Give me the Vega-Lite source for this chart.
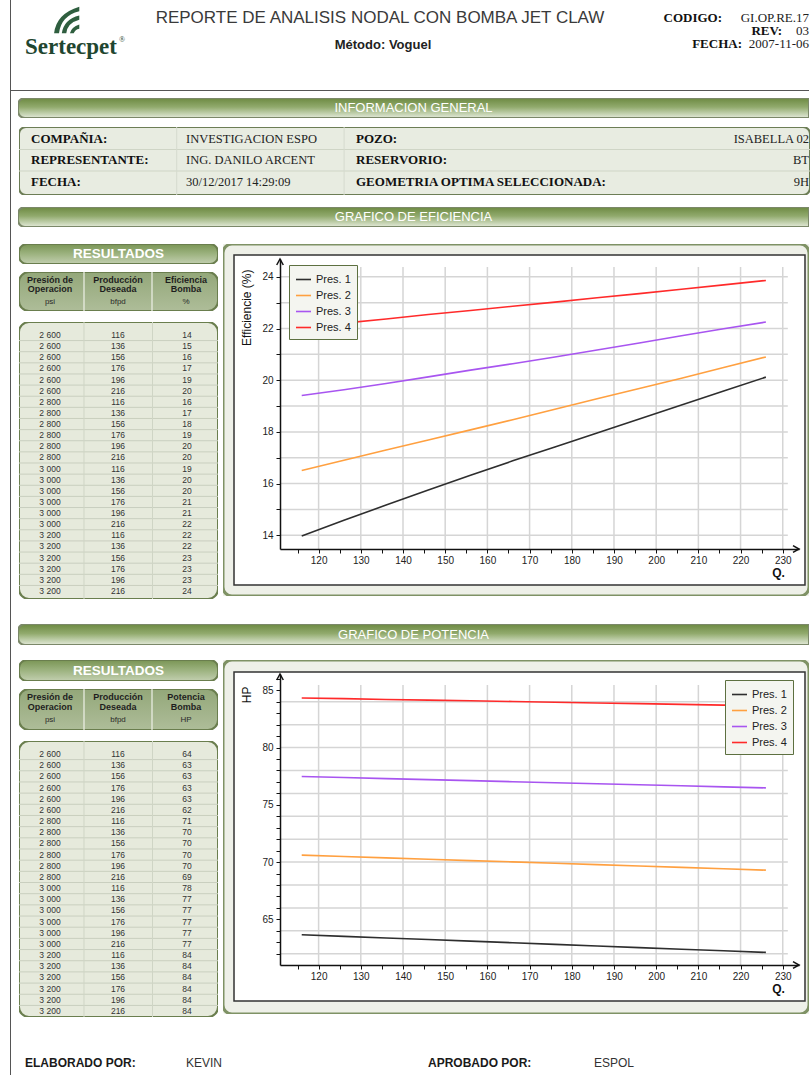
{
  "$schema": "https://vega.github.io/schema/vega-lite/v6.json",
  "background": "#ffffff",
  "padding": {"left": 10, "top": 0, "right": 0, "bottom": 0},
  "spacing": 0,
  "resolve": {"scale": {"color": "independent"}, "legend": {"color": "independent"}},
  "config": {
    "view": {"stroke": null},
    "font": "Liberation Sans",
    "locale": {"number": {"decimal": ",", "thousands": " ", "grouping": [3], "currency": ["", ""]}},
    "axis": {"labelFont": "Liberation Sans", "labelFontSize": 10, "labelColor": "#222222", "domainColor": "#111111", "domainWidth": 1.5, "tickColor": "#111111", "tickSize": 4, "grid": false, "titleFont": "Liberation Sans", "titleColor": "#111111", "titleFontWeight": "normal", "titleFontSize": 12, "labelFlush": false, "labelOverlap": false, "labelBound": false},
    "legend": {"labelFont": "Liberation Sans", "labelFontSize": 11, "labelColor": "#222222", "symbolType": "stroke", "symbolSize": 225, "symbolStrokeWidth": 1.6, "padding": 6, "rowPadding": 2, "labelOffset": 4, "fillColor": "#f4f5f0", "strokeColor": "#5d7040"}
  },
  "datasets": {
    "curvas": [
      {"serie": "Pres. 1", "Q": 116, "ef": 13.97, "hp": 63.66}, {"serie": "Pres. 1", "Q": 126, "ef": 14.58, "hp": 63.52}, {"serie": "Pres. 1", "Q": 136, "ef": 15.17, "hp": 63.38}, {"serie": "Pres. 1", "Q": 146, "ef": 15.75, "hp": 63.24}, {"serie": "Pres. 1", "Q": 156, "ef": 16.32, "hp": 63.10}, {"serie": "Pres. 1", "Q": 166, "ef": 16.88, "hp": 62.96}, {"serie": "Pres. 1", "Q": 176, "ef": 17.42, "hp": 62.82}, {"serie": "Pres. 1", "Q": 186, "ef": 17.96, "hp": 62.68}, {"serie": "Pres. 1", "Q": 196, "ef": 18.50, "hp": 62.54}, {"serie": "Pres. 1", "Q": 206, "ef": 19.04, "hp": 62.40}, {"serie": "Pres. 1", "Q": 216, "ef": 19.58, "hp": 62.26}, {"serie": "Pres. 1", "Q": 226, "ef": 20.12, "hp": 62.12},
      {"serie": "Pres. 2", "Q": 116, "ef": 16.51, "hp": 70.61}, {"serie": "Pres. 2", "Q": 126, "ef": 16.90, "hp": 70.49}, {"serie": "Pres. 2", "Q": 136, "ef": 17.30, "hp": 70.37}, {"serie": "Pres. 2", "Q": 146, "ef": 17.69, "hp": 70.25}, {"serie": "Pres. 2", "Q": 156, "ef": 18.08, "hp": 70.13}, {"serie": "Pres. 2", "Q": 166, "ef": 18.47, "hp": 70.02}, {"serie": "Pres. 2", "Q": 176, "ef": 18.88, "hp": 69.90}, {"serie": "Pres. 2", "Q": 186, "ef": 19.28, "hp": 69.78}, {"serie": "Pres. 2", "Q": 196, "ef": 19.68, "hp": 69.66}, {"serie": "Pres. 2", "Q": 206, "ef": 20.08, "hp": 69.54}, {"serie": "Pres. 2", "Q": 216, "ef": 20.49, "hp": 69.42}, {"serie": "Pres. 2", "Q": 226, "ef": 20.90, "hp": 69.30},
      {"serie": "Pres. 3", "Q": 116, "ef": 19.41, "hp": 77.47}, {"serie": "Pres. 3", "Q": 126, "ef": 19.63, "hp": 77.38}, {"serie": "Pres. 3", "Q": 136, "ef": 19.87, "hp": 77.29}, {"serie": "Pres. 3", "Q": 146, "ef": 20.13, "hp": 77.20}, {"serie": "Pres. 3", "Q": 156, "ef": 20.39, "hp": 77.11}, {"serie": "Pres. 3", "Q": 166, "ef": 20.64, "hp": 77.02}, {"serie": "Pres. 3", "Q": 176, "ef": 20.90, "hp": 76.93}, {"serie": "Pres. 3", "Q": 186, "ef": 21.17, "hp": 76.84}, {"serie": "Pres. 3", "Q": 196, "ef": 21.44, "hp": 76.75}, {"serie": "Pres. 3", "Q": 206, "ef": 21.72, "hp": 76.66}, {"serie": "Pres. 3", "Q": 216, "ef": 21.99, "hp": 76.57}, {"serie": "Pres. 3", "Q": 226, "ef": 22.25, "hp": 76.48},
      {"serie": "Pres. 4", "Q": 116, "ef": 22.05, "hp": 84.33}, {"serie": "Pres. 4", "Q": 126, "ef": 22.21, "hp": 84.27}, {"serie": "Pres. 4", "Q": 136, "ef": 22.37, "hp": 84.20}, {"serie": "Pres. 4", "Q": 146, "ef": 22.54, "hp": 84.14}, {"serie": "Pres. 4", "Q": 156, "ef": 22.70, "hp": 84.08}, {"serie": "Pres. 4", "Q": 166, "ef": 22.86, "hp": 84.02}, {"serie": "Pres. 4", "Q": 176, "ef": 23.02, "hp": 83.95}, {"serie": "Pres. 4", "Q": 186, "ef": 23.19, "hp": 83.89}, {"serie": "Pres. 4", "Q": 196, "ef": 23.35, "hp": 83.83}, {"serie": "Pres. 4", "Q": 206, "ef": 23.52, "hp": 83.77}, {"serie": "Pres. 4", "Q": 216, "ef": 23.69, "hp": 83.70}, {"serie": "Pres. 4", "Q": 226, "ef": 23.86, "hp": 83.64}
    ],
    "res": [
      {"n": 1, "psi": 2600, "bfpd": 116, "ef": 14, "hp": 64}, {"n": 2, "psi": 2600, "bfpd": 136, "ef": 15, "hp": 63}, {"n": 3, "psi": 2600, "bfpd": 156, "ef": 16, "hp": 63}, {"n": 4, "psi": 2600, "bfpd": 176, "ef": 17, "hp": 63}, {"n": 5, "psi": 2600, "bfpd": 196, "ef": 19, "hp": 63}, {"n": 6, "psi": 2600, "bfpd": 216, "ef": 20, "hp": 62},
      {"n": 7, "psi": 2800, "bfpd": 116, "ef": 16, "hp": 71}, {"n": 8, "psi": 2800, "bfpd": 136, "ef": 17, "hp": 70}, {"n": 9, "psi": 2800, "bfpd": 156, "ef": 18, "hp": 70}, {"n": 10, "psi": 2800, "bfpd": 176, "ef": 19, "hp": 70}, {"n": 11, "psi": 2800, "bfpd": 196, "ef": 20, "hp": 70}, {"n": 12, "psi": 2800, "bfpd": 216, "ef": 20, "hp": 69},
      {"n": 13, "psi": 3000, "bfpd": 116, "ef": 19, "hp": 78}, {"n": 14, "psi": 3000, "bfpd": 136, "ef": 20, "hp": 77}, {"n": 15, "psi": 3000, "bfpd": 156, "ef": 20, "hp": 77}, {"n": 16, "psi": 3000, "bfpd": 176, "ef": 21, "hp": 77}, {"n": 17, "psi": 3000, "bfpd": 196, "ef": 21, "hp": 77}, {"n": 18, "psi": 3000, "bfpd": 216, "ef": 22, "hp": 77},
      {"n": 19, "psi": 3200, "bfpd": 116, "ef": 22, "hp": 84}, {"n": 20, "psi": 3200, "bfpd": 136, "ef": 22, "hp": 84}, {"n": 21, "psi": 3200, "bfpd": 156, "ef": 23, "hp": 84}, {"n": 22, "psi": 3200, "bfpd": 176, "ef": 23, "hp": 84}, {"n": 23, "psi": 3200, "bfpd": 196, "ef": 23, "hp": 84}, {"n": 24, "psi": 3200, "bfpd": 216, "ef": 24, "hp": 84}
    ]
  },
  "hconcat": [
    {"width": 1, "height": 1075, "view": {"fill": "#555555", "stroke": null}, "data": {"values": []}, "mark": "point"},
    {
      "spacing": 0,
      "resolve": {"scale": {"color": "independent"}, "legend": {"color": "independent"}},
      "vconcat": [
        {
          "width": 798, "height": 90,
          "layer": [
            {"data": {"values": [{"h": 1, "v": 2}]}, "mark": {"type": "point", "shape": "M-0.85,0.95 Q-0.7,-0.45 0.95,-0.95 L0.95,-0.62 Q-0.35,-0.3 -0.5,0.95 Z M-0.3,0.95 Q-0.15,-0.05 0.95,-0.32 L0.95,-0.02 Q0.1,0.2 0.02,0.95 Z M0.28,0.95 Q0.38,0.5 0.95,0.32 L0.95,0.62 Q0.65,0.68 0.55,0.95 Z", "filled": true, "fill": "#2f5e3f", "strokeWidth": 0, "size": 784, "opacity": 1},
              "encoding": {"x": {"field": "h", "type": "quantitative", "scale": {"domain": [1,2,3,4,5,6,7,8,9], "range": [55,60,111,369,372,711,731,771,798], "nice": false, "zero": false}, "axis": null}, "y": {"field": "v", "type": "quantitative", "scale": {"domain": [1,2,3,4,5,6,7], "range": [18,20,31,40,44,45,47], "nice": false, "zero": false}, "axis": null}}},
            {"data": {"values": [{"t": "Sertecpet", "h": 2, "v": 7}]}, "mark": {"type": "text", "font": "Liberation Serif", "fontSize": 23, "fontWeight": "bold", "color": "#1f4630"},
              "encoding": {"x": {"field": "h", "type": "quantitative", "axis": null}, "y": {"field": "v", "type": "quantitative", "axis": null}, "text": {"field": "t", "type": "nominal"}}},
            {"data": {"values": [{"t": "®", "h": 3, "v": 4}]}, "mark": {"type": "text", "font": "Liberation Serif", "fontSize": 8, "color": "#1f4630"},
              "encoding": {"x": {"field": "h", "type": "quantitative", "axis": null}, "y": {"field": "v", "type": "quantitative", "axis": null}, "text": {"field": "t", "type": "nominal"}}},
            {"data": {"values": [{"t": "REPORTE DE ANALISIS NODAL CON BOMBA JET CLAW", "h": 4, "v": 1}]}, "mark": {"type": "text", "fontSize": 17, "color": "#3a3a3a"},
              "encoding": {"x": {"field": "h", "type": "quantitative", "axis": null}, "y": {"field": "v", "type": "quantitative", "axis": null}, "text": {"field": "t", "type": "nominal"}}},
            {"data": {"values": [{"t": "Método: Voguel", "h": 5, "v": 6}]}, "mark": {"type": "text", "fontSize": 13, "fontWeight": "bold", "color": "#222222"},
              "encoding": {"x": {"field": "h", "type": "quantitative", "axis": null}, "y": {"field": "v", "type": "quantitative", "axis": null}, "text": {"field": "t", "type": "nominal"}}},
            {"data": {"values": [{"t": "CODIGO:", "h": 6, "v": 1}, {"t": "FECHA:", "h": 7, "v": 5}, {"t": "REV:", "h": 8, "v": 3}]}, "mark": {"type": "text", "align": "right", "font": "Liberation Serif", "fontSize": 13, "fontWeight": "bold", "color": "#111111"},
              "encoding": {"x": {"field": "h", "type": "quantitative", "axis": null}, "y": {"field": "v", "type": "quantitative", "axis": null}, "text": {"field": "t", "type": "nominal"}}},
            {"data": {"values": [{"t": "GI.OP.RE.17", "h": 9, "v": 1}, {"t": "03", "h": 9, "v": 3}, {"t": "2007-11-06", "h": 9, "v": 5}]}, "mark": {"type": "text", "align": "right", "font": "Liberation Serif", "fontSize": 13, "color": "#222222"},
              "encoding": {"x": {"field": "h", "type": "quantitative", "axis": null}, "y": {"field": "v", "type": "quantitative", "axis": null}, "text": {"field": "t", "type": "nominal"}}}
          ]
        },
        {"width": 798, "height": 1, "view": {"fill": "#555555", "stroke": null}, "data": {"values": []}, "mark": "point"},
        {"width": 798, "height": 7, "data": {"values": []}, "mark": "point"},
        {
          "spacing": 0,
          "hconcat": [
            {"width": 7, "height": 20, "data": {"values": []}, "mark": "point"},
            {"width": 791, "height": 20, "layer": [
              {"data": {"values": [{}]}, "mark": {"type": "rect", "clip": true, "fill": {"gradient": "linear", "x1": 0, "y1": 0, "x2": 0, "y2": 1, "stops": [{"offset": 0, "color": "#6c8941"}, {"offset": 0.45, "color": "#91aa6d"}, {"offset": 0.8, "color": "#c5d3b2"}, {"offset": 1, "color": "#e3e9d9"}]}, "stroke": "#7b8869", "strokeWidth": 2, "cornerRadiusTopLeft": 7, "cornerRadiusBottomLeft": 7}},
              {"data": {"values": [{"t": "INFORMACION GENERAL"}]}, "mark": {"type": "text", "fontSize": 13, "color": "#ffffff"}, "encoding": {"text": {"field": "t", "type": "nominal"}}}
            ]}
          ]
        },
        {"width": 798, "height": 8, "data": {"values": []}, "mark": "point"},
        {
          "spacing": 0,
          "hconcat": [
            {"width": 7, "height": 68, "data": {"values": []}, "mark": "point"},
            {"width": 791, "height": 68, "layer": [
              {"data": {"values": [{}]}, "mark": {"type": "rect", "clip": true, "fill": "#e8ece1", "stroke": "#6c7d55", "strokeWidth": 2, "cornerRadius": 7}},
              {"data": {"values": [{}]}, "mark": {"type": "rule", "color": "#cfd5c6", "strokeWidth": 1}, "encoding": {"y": {"datum": 1.5, "type": "quantitative", "scale": {"domain": [1,2,3], "range": [12,33,55], "nice": false, "zero": false}, "axis": null}}},
              {"data": {"values": [{}]}, "mark": {"type": "rule", "color": "#cfd5c6", "strokeWidth": 1}, "encoding": {"y": {"datum": 2.5, "type": "quantitative", "axis": null}}},
              {"data": {"values": [{}]}, "mark": {"type": "rule", "color": "#d6dbce", "strokeWidth": 1}, "encoding": {"x": {"datum": 1.94, "type": "quantitative", "scale": {"domain": [1,2,3,4], "range": [12,167,337,790], "nice": false, "zero": false}, "axis": null}}},
              {"data": {"values": [{}]}, "mark": {"type": "rule", "color": "#d6dbce", "strokeWidth": 1}, "encoding": {"x": {"datum": 2.93, "type": "quantitative", "axis": null}}},
              {"data": {"values": [{"t": "COMPAÑIA:", "c": 1, "r": 1}, {"t": "REPRESENTANTE:", "c": 1, "r": 2}, {"t": "FECHA:", "c": 1, "r": 3}, {"t": "POZO:", "c": 3, "r": 1}, {"t": "RESERVORIO:", "c": 3, "r": 2}, {"t": "GEOMETRIA OPTIMA SELECCIONADA:", "c": 3, "r": 3}]},
                "mark": {"type": "text", "align": "left", "font": "Liberation Serif", "fontSize": 13, "fontWeight": "bold", "color": "#111111"},
                "encoding": {"x": {"field": "c", "type": "quantitative", "axis": null}, "y": {"field": "r", "type": "quantitative", "axis": null}, "text": {"field": "t", "type": "nominal"}}},
              {"data": {"values": [{"t": "INVESTIGACION ESPO", "c": 2, "r": 1}, {"t": "ING. DANILO ARCENT", "c": 2, "r": 2}, {"t": "30/12/2017 14:29:09", "c": 2, "r": 3}]},
                "mark": {"type": "text", "align": "left", "font": "Liberation Serif", "fontSize": 12.5, "color": "#222222"},
                "encoding": {"x": {"field": "c", "type": "quantitative", "axis": null}, "y": {"field": "r", "type": "quantitative", "axis": null}, "text": {"field": "t", "type": "nominal"}}},
              {"data": {"values": [{"t": "ISABELLA 02", "c": 4, "r": 1}, {"t": "BT", "c": 4, "r": 2}, {"t": "9H", "c": 4, "r": 3}]},
                "mark": {"type": "text", "align": "right", "font": "Liberation Serif", "fontSize": 12.5, "color": "#222222"},
                "encoding": {"x": {"field": "c", "type": "quantitative", "axis": null}, "y": {"field": "r", "type": "quantitative", "axis": null}, "text": {"field": "t", "type": "nominal"}}}
            ]}
          ]
        },
        {"width": 798, "height": 11, "data": {"values": []}, "mark": "point"},
        {
          "spacing": 0,
          "hconcat": [
            {"width": 7, "height": 20, "data": {"values": []}, "mark": "point"},
            {"width": 791, "height": 20, "layer": [
              {"data": {"values": [{}]}, "mark": {"type": "rect", "clip": true, "fill": {"gradient": "linear", "x1": 0, "y1": 0, "x2": 0, "y2": 1, "stops": [{"offset": 0, "color": "#6c8941"}, {"offset": 0.45, "color": "#91aa6d"}, {"offset": 0.8, "color": "#c5d3b2"}, {"offset": 1, "color": "#e3e9d9"}]}, "stroke": "#7b8869", "strokeWidth": 2, "cornerRadiusTopLeft": 7, "cornerRadiusBottomLeft": 7}},
              {"data": {"values": [{"t": "GRAFICO DE EFICIENCIA"}]}, "mark": {"type": "text", "fontSize": 13, "color": "#ffffff"}, "encoding": {"text": {"field": "t", "type": "nominal"}}}
            ]}
          ]
        },
        {"width": 798, "height": 17, "data": {"values": []}, "mark": "point"},
        {
          "spacing": 0,
          "resolve": {"scale": {"color": "independent"}, "legend": {"color": "independent"}},
          "hconcat": [
            {"width": 7, "height": 352, "data": {"values": []}, "mark": "point"},
            {
              "spacing": 0,
              "vconcat": [
                {"width": 199, "height": 20, "layer": [
                  {"data": {"values": [{}]}, "mark": {"type": "rect", "clip": true, "fill": {"gradient": "linear", "x1": 0, "y1": 0, "x2": 0, "y2": 1, "stops": [{"offset": 0, "color": "#7a9555"}, {"offset": 0.5, "color": "#9db380"}, {"offset": 1, "color": "#c2cfb0"}]}, "stroke": "#6a7e4e", "strokeWidth": 2, "cornerRadius": 8}},
                  {"data": {"values": [{"t": "RESULTADOS"}]}, "mark": {"type": "text", "fontSize": 13.5, "fontWeight": "bold", "color": "#ffffff"}, "encoding": {"text": {"field": "t", "type": "nominal"}}}
                ]},
                {"width": 199, "height": 7, "data": {"values": []}, "mark": "point"},
                {"width": 199, "height": 39, "layer": [
                  {"data": {"values": [{}]}, "mark": {"type": "rect", "clip": true, "fill": {"gradient": "linear", "x1": 0, "y1": 0, "x2": 0, "y2": 1, "stops": [{"offset": 0, "color": "#93a779"}, {"offset": 1, "color": "#aebd99"}]}, "stroke": "#6a7e4e", "strokeWidth": 2, "cornerRadius": 10}},
                  {"data": {"values": [{}]}, "mark": {"type": "rule", "color": "#eef1e8", "strokeWidth": 1.2}, "encoding": {"x": {"datum": 1.5, "type": "quantitative", "scale": {"domain": [1,2,3], "range": [31,99,167], "nice": false, "zero": false}, "axis": null}}},
                  {"data": {"values": [{}]}, "mark": {"type": "rule", "color": "#eef1e8", "strokeWidth": 1.2}, "encoding": {"x": {"datum": 2.5, "type": "quantitative", "axis": null}}},
                  {"data": {"values": [{"t": "Presión de", "c": 1, "l": 1}, {"t": "Operacion", "c": 1, "l": 2}, {"t": "Producción", "c": 2, "l": 1}, {"t": "Deseada", "c": 2, "l": 2}, {"t": "Eficiencia", "c": 3, "l": 1}, {"t": "Bomba", "c": 3, "l": 2}]},
                    "mark": {"type": "text", "fontSize": 9, "fontWeight": "bold", "color": "#1e1e1e"},
                    "encoding": {"x": {"field": "c", "type": "quantitative", "axis": null}, "y": {"field": "l", "type": "quantitative", "scale": {"domain": [1,2,3], "range": [8,17,30], "nice": false, "zero": false}, "axis": null}, "text": {"field": "t", "type": "nominal"}}},
                  {"data": {"values": [{"t": "psi", "c": 1, "l": 3}, {"t": "bfpd", "c": 2, "l": 3}, {"t": "%", "c": 3, "l": 3}]},
                    "mark": {"type": "text", "fontSize": 8, "color": "#2a2a2a"},
                    "encoding": {"x": {"field": "c", "type": "quantitative", "axis": null}, "y": {"field": "l", "type": "quantitative", "axis": null}, "text": {"field": "t", "type": "nominal"}}}
                ]},
                {"width": 199, "height": 9, "data": {"values": []}, "mark": "point"},
                {"width": 199, "height": 277, "data": {"name": "res"}, "layer": [
                  {"data": {"values": [{}]}, "mark": {"type": "rect", "clip": true, "fill": "#e6eadc", "stroke": "#6a7e4e", "strokeWidth": 2, "cornerRadius": 10}},
                  {"transform": [{"filter": "datum.n < 24"}], "mark": {"type": "rule", "color": "#c9cfbf", "strokeWidth": 1, "yOffset": 5.57},
                    "encoding": {"y": {"field": "n", "type": "quantitative", "scale": {"domain": [1, 24], "range": [13, 269], "nice": false, "zero": false}, "axis": null}}},
                  {"data": {"values": [{}]}, "mark": {"type": "rule", "color": "#cfd5c5", "strokeWidth": 1}, "encoding": {"x": {"datum": 1.5, "type": "quantitative", "scale": {"domain": [1,2,3], "range": [31,99,168], "nice": false, "zero": false}, "axis": null}}},
                  {"data": {"values": [{}]}, "mark": {"type": "rule", "color": "#cfd5c5", "strokeWidth": 1}, "encoding": {"x": {"datum": 2.5, "type": "quantitative", "axis": null}}},
                  {"mark": {"type": "text", "fontSize": 8.5, "color": "#333333"}, "encoding": {"x": {"datum": 1, "type": "quantitative", "axis": null}, "y": {"field": "n", "type": "quantitative", "axis": null}, "text": {"field": "psi", "type": "quantitative", "format": ",d"}}},
                  {"mark": {"type": "text", "fontSize": 8.5, "color": "#333333"}, "encoding": {"x": {"datum": 2, "type": "quantitative", "axis": null}, "y": {"field": "n", "type": "quantitative", "axis": null}, "text": {"field": "bfpd", "type": "quantitative", "format": "d"}}},
                  {"mark": {"type": "text", "fontSize": 8.5, "color": "#333333"}, "encoding": {"x": {"datum": 3, "type": "quantitative", "axis": null}, "y": {"field": "n", "type": "quantitative", "axis": null}, "text": {"field": "ef", "type": "quantitative", "format": "d"}}}
                ]}
              ]
            },
            {"width": 4, "height": 352, "data": {"values": []}, "mark": "point"},
            {"width": 586, "height": 352, "view": {"fill": "#ffffff", "stroke": null}, "layer": [
              {"data": {"values": [{}]}, "mark": {"type": "rect", "clip": true, "filled": false, "stroke": "#eef0e8", "strokeWidth": 16, "cornerRadius": 8},
                "encoding": {"x": {"datum": 98.052, "type": "quantitative", "scale": {"domain": [110.85, 233.85], "range": [57, 576], "nice": false, "zero": false}}, "x2": {"datum": 237.168}, "y": {"datum": 25.154, "type": "quantitative", "scale": {"domain": [13.47, 24.69], "range": [305, 15], "nice": false, "zero": false}}, "y2": {"datum": 11.768}}},
              {"data": {"values": [{}]}, "mark": {"type": "rect", "clip": true, "filled": false, "stroke": "#7f9265", "strokeWidth": 3, "cornerRadius": 9}},
              {"data": {"values": [{}]}, "mark": {"type": "rect", "filled": false, "stroke": "#333333", "strokeWidth": 1.5},
                "encoding": {"x": {"datum": 99.95, "type": "quantitative"}, "x2": {"datum": 235.27}, "y": {"datum": 24.845, "type": "quantitative"}, "y2": {"datum": 12.077}}},
              {"data": {"values": [{"g": 120}, {"g": 130}, {"g": 140}, {"g": 150}, {"g": 160}, {"g": 170}, {"g": 180}, {"g": 190}, {"g": 200}, {"g": 210}, {"g": 220}, {"g": 230}]},
                "mark": {"type": "rule", "color": "#d5d5d5", "strokeWidth": 1.5},
                "encoding": {"x": {"field": "g", "type": "quantitative"}, "y": {"datum": 13.47, "type": "quantitative"}, "y2": {"datum": 24.38}}},
              {"data": {"values": [{"g": 14}, {"g": 15}, {"g": 16}, {"g": 17}, {"g": 18}, {"g": 19}, {"g": 20}, {"g": 21}, {"g": 22}, {"g": 23}, {"g": 24}]},
                "mark": {"type": "rule", "color": "#d5d5d5", "strokeWidth": 1.5},
                "encoding": {"y": {"field": "g", "type": "quantitative"}, "x": {"datum": 110.85, "type": "quantitative"}, "x2": {"datum": 231.2}}},
              {"data": {"name": "curvas"}, "mark": {"type": "line", "strokeWidth": 1.6},
                "encoding": {
                  "x": {"field": "Q", "type": "quantitative", "axis": {"offset": -47, "tickCount": 200, "format": "d", "values": [115,120,125,130,135,140,145,150,155,160,165,170,175,180,185,190,195,200,205,210,215,220,225,230], "labelExpr": "datum.value % 10 === 0 ? datum.label : ''", "labelOverlap": false, "labelFlush": false, "labelBound": false, "title": "Q.", "titleX": 555, "titleY": 23, "titleAlign": "center", "titleBaseline": "middle", "titleFontWeight": "bold", "titleFontSize": 12, "labelPadding": 2, "zindex": 1}},
                  "y": {"field": "ef", "type": "quantitative", "axis": {"offset": -57, "tickCount": 200, "format": "d", "values": [14,14.5,15,15.5,16,16.5,17,17.5,18,18.5,19,19.5,20,20.5,21,21.5,22,22.5,23,23.5,24], "labelExpr": "datum.value % 2 === 0 ? datum.label : ''", "labelOverlap": false, "labelFlush": false, "labelBound": false, "title": "Efficiencie (%)", "titleX": -34, "titleY": 25, "titleAngle": 270, "titleAlign": "right", "titleBaseline": "middle", "labelPadding": 3, "zindex": 1}},
                  "color": {"field": "serie", "type": "nominal", "scale": {"domain": ["Pres. 1", "Pres. 2", "Pres. 3", "Pres. 4"], "range": ["#2e2e2e", "#ffa040", "#a855f0", "#ff2a2a"]}, "legend": {"title": null, "orient": "none", "legendX": 66, "legendY": 21, "zindex": 1}}
                }},
              {"data": {"values": [{}]}, "mark": {"type": "point", "shape": "M-1,-0.55L0,0L-1,0.55", "filled": false, "stroke": "#111111", "strokeWidth": 1.5, "size": 144, "opacity": 1},
                "encoding": {"x": {"datum": 233.85, "type": "quantitative"}, "y": {"datum": 13.47, "type": "quantitative"}}},
              {"data": {"values": [{}]}, "mark": {"type": "point", "shape": "M-0.55,1L0,0L0.55,1", "filled": false, "stroke": "#111111", "strokeWidth": 1.5, "size": 144, "opacity": 1},
                "encoding": {"x": {"datum": 110.85, "type": "quantitative"}, "y": {"datum": 24.69, "type": "quantitative"}}}
            ]}
          ]
        },
        {"width": 798, "height": 24, "data": {"values": []}, "mark": "point"},
        {
          "spacing": 0,
          "hconcat": [
            {"width": 7, "height": 21, "data": {"values": []}, "mark": "point"},
            {"width": 791, "height": 21, "layer": [
              {"data": {"values": [{}]}, "mark": {"type": "rect", "clip": true, "fill": {"gradient": "linear", "x1": 0, "y1": 0, "x2": 0, "y2": 1, "stops": [{"offset": 0, "color": "#6c8941"}, {"offset": 0.45, "color": "#91aa6d"}, {"offset": 0.8, "color": "#c5d3b2"}, {"offset": 1, "color": "#e3e9d9"}]}, "stroke": "#7b8869", "strokeWidth": 2, "cornerRadiusTopLeft": 7, "cornerRadiusBottomLeft": 7}},
              {"data": {"values": [{"t": "GRAFICO DE POTENCIA"}]}, "mark": {"type": "text", "fontSize": 13, "color": "#ffffff"}, "encoding": {"text": {"field": "t", "type": "nominal"}}}
            ]}
          ]
        },
        {"width": 798, "height": 15, "data": {"values": []}, "mark": "point"},
        {
          "spacing": 0,
          "resolve": {"scale": {"color": "independent"}, "legend": {"color": "independent"}},
          "hconcat": [
            {"width": 7, "height": 354, "data": {"values": []}, "mark": "point"},
            {
              "spacing": 0,
              "vconcat": [
                {"width": 199, "height": 21, "layer": [
                  {"data": {"values": [{}]}, "mark": {"type": "rect", "clip": true, "fill": {"gradient": "linear", "x1": 0, "y1": 0, "x2": 0, "y2": 1, "stops": [{"offset": 0, "color": "#7a9555"}, {"offset": 0.5, "color": "#9db380"}, {"offset": 1, "color": "#c2cfb0"}]}, "stroke": "#6a7e4e", "strokeWidth": 2, "cornerRadius": 8}},
                  {"data": {"values": [{"t": "RESULTADOS"}]}, "mark": {"type": "text", "fontSize": 13.5, "fontWeight": "bold", "color": "#ffffff"}, "encoding": {"text": {"field": "t", "type": "nominal"}}}
                ]},
                {"width": 199, "height": 7, "data": {"values": []}, "mark": "point"},
                {"width": 199, "height": 41, "layer": [
                  {"data": {"values": [{}]}, "mark": {"type": "rect", "clip": true, "fill": {"gradient": "linear", "x1": 0, "y1": 0, "x2": 0, "y2": 1, "stops": [{"offset": 0, "color": "#93a779"}, {"offset": 1, "color": "#aebd99"}]}, "stroke": "#6a7e4e", "strokeWidth": 2, "cornerRadius": 10}},
                  {"data": {"values": [{}]}, "mark": {"type": "rule", "color": "#eef1e8", "strokeWidth": 1.2}, "encoding": {"x": {"datum": 1.5, "type": "quantitative", "scale": {"domain": [1,2,3], "range": [31,99,167], "nice": false, "zero": false}, "axis": null}}},
                  {"data": {"values": [{}]}, "mark": {"type": "rule", "color": "#eef1e8", "strokeWidth": 1.2}, "encoding": {"x": {"datum": 2.5, "type": "quantitative", "axis": null}}},
                  {"data": {"values": [{"t": "Presión de", "c": 1, "l": 1}, {"t": "Operacion", "c": 1, "l": 2}, {"t": "Producción", "c": 2, "l": 1}, {"t": "Deseada", "c": 2, "l": 2}, {"t": "Potencia", "c": 3, "l": 1}, {"t": "Bomba", "c": 3, "l": 2}]},
                    "mark": {"type": "text", "fontSize": 9, "fontWeight": "bold", "color": "#1e1e1e"},
                    "encoding": {"x": {"field": "c", "type": "quantitative", "axis": null}, "y": {"field": "l", "type": "quantitative", "scale": {"domain": [1,2,3], "range": [8,18,31], "nice": false, "zero": false}, "axis": null}, "text": {"field": "t", "type": "nominal"}}},
                  {"data": {"values": [{"t": "psi", "c": 1, "l": 3}, {"t": "bfpd", "c": 2, "l": 3}, {"t": "HP", "c": 3, "l": 3}]},
                    "mark": {"type": "text", "fontSize": 8, "color": "#2a2a2a"},
                    "encoding": {"x": {"field": "c", "type": "quantitative", "axis": null}, "y": {"field": "l", "type": "quantitative", "axis": null}, "text": {"field": "t", "type": "nominal"}}}
                ]},
                {"width": 199, "height": 9, "data": {"values": []}, "mark": "point"},
                {"width": 199, "height": 276, "data": {"name": "res"}, "layer": [
                  {"data": {"values": [{}]}, "mark": {"type": "rect", "clip": true, "fill": "#e6eadc", "stroke": "#6a7e4e", "strokeWidth": 2, "cornerRadius": 10}},
                  {"transform": [{"filter": "datum.n < 24"}], "mark": {"type": "rule", "color": "#c9cfbf", "strokeWidth": 1, "yOffset": 5.6},
                    "encoding": {"y": {"field": "n", "type": "quantitative", "scale": {"domain": [1, 24], "range": [13, 270], "nice": false, "zero": false}, "axis": null}}},
                  {"data": {"values": [{}]}, "mark": {"type": "rule", "color": "#cfd5c5", "strokeWidth": 1}, "encoding": {"x": {"datum": 1.5, "type": "quantitative", "scale": {"domain": [1,2,3], "range": [31,99,168], "nice": false, "zero": false}, "axis": null}}},
                  {"data": {"values": [{}]}, "mark": {"type": "rule", "color": "#cfd5c5", "strokeWidth": 1}, "encoding": {"x": {"datum": 2.5, "type": "quantitative", "axis": null}}},
                  {"mark": {"type": "text", "fontSize": 8.5, "color": "#333333"}, "encoding": {"x": {"datum": 1, "type": "quantitative", "axis": null}, "y": {"field": "n", "type": "quantitative", "axis": null}, "text": {"field": "psi", "type": "quantitative", "format": ",d"}}},
                  {"mark": {"type": "text", "fontSize": 8.5, "color": "#333333"}, "encoding": {"x": {"datum": 2, "type": "quantitative", "axis": null}, "y": {"field": "n", "type": "quantitative", "axis": null}, "text": {"field": "bfpd", "type": "quantitative", "format": "d"}}},
                  {"mark": {"type": "text", "fontSize": 8.5, "color": "#333333"}, "encoding": {"x": {"datum": 3, "type": "quantitative", "axis": null}, "y": {"field": "n", "type": "quantitative", "axis": null}, "text": {"field": "hp", "type": "quantitative", "format": "d"}}}
                ]}
              ]
            },
            {"width": 4, "height": 354, "data": {"values": []}, "mark": "point"},
            {"width": 586, "height": 354, "view": {"fill": "#ffffff", "stroke": null}, "layer": [
              {"data": {"values": [{}]}, "mark": {"type": "rect", "clip": true, "filled": false, "stroke": "#eef0e8", "strokeWidth": 16, "cornerRadius": 8},
                "encoding": {"x": {"datum": 98.052, "type": "quantitative", "scale": {"domain": [110.85, 233.85], "range": [57, 576], "nice": false, "zero": false}}, "x2": {"datum": 237.168}, "y": {"datum": 87.293, "type": "quantitative", "scale": {"domain": [61.02, 86.42], "range": [305, 14], "nice": false, "zero": false}}, "y2": {"datum": 57.179}}},
              {"data": {"values": [{}]}, "mark": {"type": "rect", "clip": true, "filled": false, "stroke": "#7f9265", "strokeWidth": 3, "cornerRadius": 9}},
              {"data": {"values": [{}]}, "mark": {"type": "rect", "filled": false, "stroke": "#333333", "strokeWidth": 1.5},
                "encoding": {"x": {"datum": 99.95, "type": "quantitative"}, "x2": {"datum": 235.27}, "y": {"datum": 86.595, "type": "quantitative"}, "y2": {"datum": 57.878}}},
              {"data": {"values": [{"g": 120}, {"g": 130}, {"g": 140}, {"g": 150}, {"g": 160}, {"g": 170}, {"g": 180}, {"g": 190}, {"g": 200}, {"g": 210}, {"g": 220}, {"g": 230}]},
                "mark": {"type": "rule", "color": "#d5d5d5", "strokeWidth": 1.5},
                "encoding": {"x": {"field": "g", "type": "quantitative"}, "y": {"datum": 61.02, "type": "quantitative"}, "y2": {"datum": 85.46}}},
              {"data": {"values": [{"g": 62}, {"g": 64}, {"g": 66}, {"g": 68}, {"g": 70}, {"g": 72}, {"g": 74}, {"g": 76}, {"g": 78}, {"g": 80}, {"g": 82}, {"g": 84}]},
                "mark": {"type": "rule", "color": "#d5d5d5", "strokeWidth": 1.5},
                "encoding": {"y": {"field": "g", "type": "quantitative"}, "x": {"datum": 110.85, "type": "quantitative"}, "x2": {"datum": 231.2}}},
              {"data": {"name": "curvas"}, "mark": {"type": "line", "strokeWidth": 1.6},
                "encoding": {
                  "x": {"field": "Q", "type": "quantitative", "axis": {"offset": -49, "tickCount": 200, "format": "d", "values": [115,120,125,130,135,140,145,150,155,160,165,170,175,180,185,190,195,200,205,210,215,220,225,230], "labelExpr": "datum.value % 10 === 0 ? datum.label : ''", "labelOverlap": false, "labelFlush": false, "labelBound": false, "title": "Q.", "titleX": 555, "titleY": 23, "titleAlign": "center", "titleBaseline": "middle", "titleFontWeight": "bold", "titleFontSize": 12, "labelPadding": 2, "zindex": 1}},
                  "y": {"field": "hp", "type": "quantitative", "axis": {"offset": -57, "tickCount": 200, "format": "d", "values": [62,63,64,65,66,67,68,69,70,71,72,73,74,75,76,77,78,79,80,81,82,83,84,85,86], "labelExpr": "datum.value % 5 === 0 ? datum.label : ''", "labelOverlap": false, "labelFlush": false, "labelBound": false, "title": "HP", "titleX": -34, "titleY": 26, "titleAngle": 270, "titleAlign": "right", "titleBaseline": "middle", "labelPadding": 3, "zindex": 1}},
                  "color": {"field": "serie", "type": "nominal", "scale": {"domain": ["Pres. 1", "Pres. 2", "Pres. 3", "Pres. 4"], "range": ["#2e2e2e", "#ffa040", "#a855f0", "#ff2a2a"]}, "legend": {"title": null, "orient": "none", "legendX": 502, "legendY": 20, "zindex": 1}}
                }},
              {"data": {"values": [{}]}, "mark": {"type": "point", "shape": "M-1,-0.55L0,0L-1,0.55", "filled": false, "stroke": "#111111", "strokeWidth": 1.5, "size": 144, "opacity": 1},
                "encoding": {"x": {"datum": 233.85, "type": "quantitative"}, "y": {"datum": 61.02, "type": "quantitative"}}},
              {"data": {"values": [{}]}, "mark": {"type": "point", "shape": "M-0.55,1L0,0L0.55,1", "filled": false, "stroke": "#111111", "strokeWidth": 1.5, "size": 144, "opacity": 1},
                "encoding": {"x": {"datum": 110.85, "type": "quantitative"}, "y": {"datum": 86.42, "type": "quantitative"}}}
            ]}
          ]
        },
        {"width": 798, "height": 27, "data": {"values": []}, "mark": "point"},
        {"width": 798, "height": 36, "layer": [
          {"data": {"values": [{"t": "ELABORADO POR:", "c": 1}, {"t": "APROBADO POR:", "c": 3}]}, "mark": {"type": "text", "align": "left", "fontSize": 12, "fontWeight": "bold", "color": "#1a1a1a"},
            "encoding": {"x": {"field": "c", "type": "quantitative", "scale": {"domain": [1,2,3,4], "range": [14,175,417,583], "nice": false, "zero": false}, "axis": null}, "text": {"field": "t", "type": "nominal"}}},
          {"data": {"values": [{"t": "KEVIN", "c": 2}, {"t": "ESPOL", "c": 4}]}, "mark": {"type": "text", "align": "left", "fontSize": 12, "color": "#333333"},
            "encoding": {"x": {"field": "c", "type": "quantitative", "axis": null}, "text": {"field": "t", "type": "nominal"}}}
        ]}
      ]
    }
  ]
}
